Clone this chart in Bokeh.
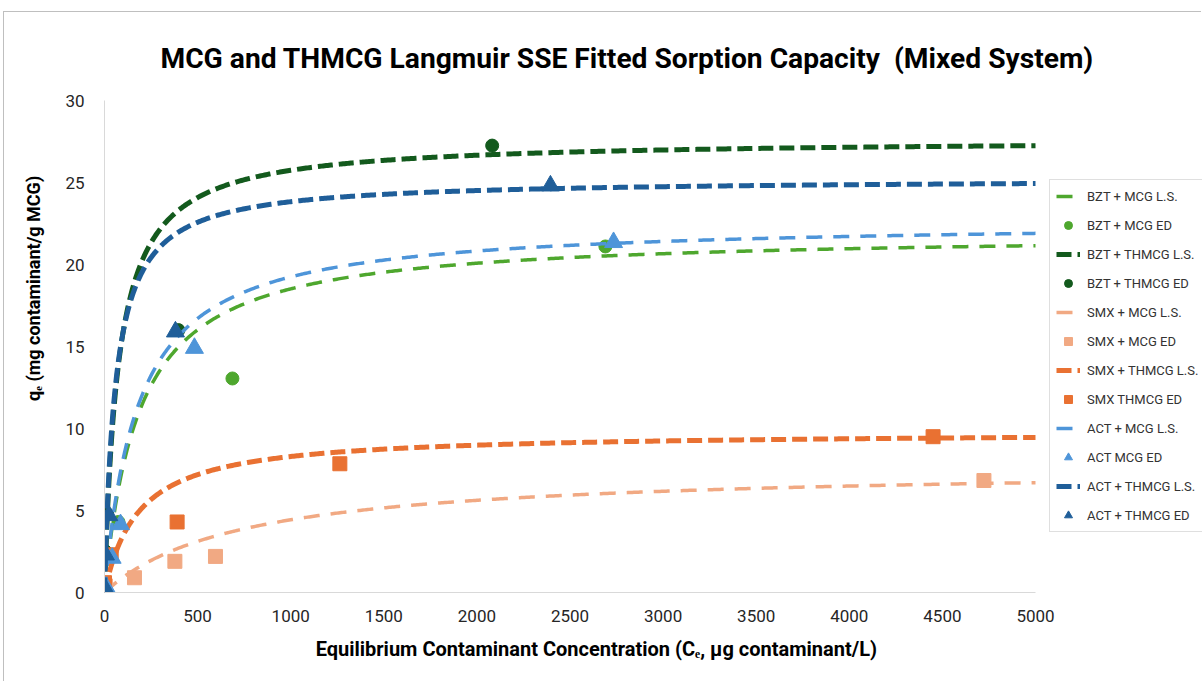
import numpy as np
from bokeh.plotting import figure
from bokeh.models import Legend, LegendItem, Range1d, FixedTicker
from bokeh.embed import file_html
from bokeh.resources import INLINE

# ---- Langmuir fit parameters (q_max in mg/g, K_L in L/ug) ----
bzt_mcg_qmax, bzt_mcg_kl = 21.93, 0.00542
bzt_thmcg_qmax, bzt_thmcg_kl = 27.65, 0.0135
smx_mcg_qmax, smx_mcg_kl = 7.68, 0.001365
smx_thmcg_qmax, smx_thmcg_kl = 9.8, 0.0055
act_mcg_qmax, act_mcg_kl = 22.68, 0.0056
act_thmcg_qmax, act_thmcg_kl = 25.23, 0.017

# ---- Experimental data (Ce in ug/L, qe in mg/g) ----
bzt_mcg_ce = [0, 10, 75, 687, 2690]
bzt_mcg_qe = [0.3, 2.3, 4.3, 13.05, 21.1]
bzt_thmcg_ce = [0, 5, 14, 397, 2082]
bzt_thmcg_qe = [0.3, 2.5, 4.8, 16.0, 27.25]
smx_mcg_ce = [5, 161, 378, 596, 4723]
smx_mcg_qe = [0.4, 0.9, 1.9, 2.2, 6.83]
smx_thmcg_ce = [0, 36, 390, 1264, 4450]
smx_thmcg_qe = [0.6, 2.3, 4.3, 7.85, 9.5]
act_mcg_ce = [10, 41, 86, 483, 2734]
act_mcg_qe = [0.3, 2.1, 4.15, 14.9, 21.35]
act_thmcg_ce = [0, 5, 23, 381, 2395]
act_thmcg_qe = [0.3, 2.3, 4.7, 15.9, 24.8]

x_ticks = [0, 500, 1000, 1500, 2000, 2500, 3000, 3500, 4000, 4500, 5000]
y_ticks = [0, 5, 10, 15, 20, 25, 30]
x_max, y_max = 5000, 30

C_GREEN = "#4EA72E"
C_DKGREEN = "#135A1D"
C_LTORANGE = "#F1A983"
C_ORANGE = "#E97132"
C_LTBLUE = "#4E95D9"
C_DKBLUE = "#1F5E99"

FONT = "Roboto"
NB = "\u00a0"

# Canvas geometry: the plotting frame runs to the right edge so the legend can sit
# beside the data area; the x axis itself is bounded to 0..x_max.
FIG_W, FIG_H = 1198, 670
BORDER_L, BORDER_T, BORDER_B = 100, 88, 90
DATA_W = 931                      # pixel width of the 0..x_max span
FRAME_W = FIG_W - BORDER_L
x_end = x_max * FRAME_W / DATA_W


def langmuir(ce, qmax, kl):
    return qmax * kl * ce / (1.0 + kl * ce)


ce_fit = np.concatenate([np.linspace(0, 50, 101), np.linspace(50, x_max, 600)[1:]])

p = figure(width=FIG_W, height=FIG_H, output_backend="svg", toolbar_location=None,
           x_range=Range1d(0, x_end), y_range=Range1d(0, y_max),
           min_border_left=BORDER_L, min_border_right=0, min_border_top=BORDER_T,
           min_border_bottom=BORDER_B, margin=(11, 0, 0, 3),
           title="MCG and THMCG Langmuir SSE Fitted Sorption Capacity " + NB + "(Mixed System)")
p.styles = {"border-top": "1px solid #BFBFBF", "border-left": "1px solid #BFBFBF"}
p.outline_line_color = None
p.xgrid.visible = False
p.ygrid.visible = False
p.background_fill_color = "white"
p.border_fill_color = "white"

p.title.text_font = FONT
p.title.text_font_style = "bold"
p.title.text_font_size = "28.2px"
p.title.text_color = "#000000"
p.title.align = "left"
p.title.offset = 56
p.title.standoff = 51

for ax, ticks in ((p.xaxis, x_ticks), (p.yaxis, y_ticks)):
    ax.ticker = FixedTicker(ticks=ticks)
    ax.axis_line_color = "#D9D9D9"
    ax.axis_line_width = 1
    ax.major_tick_line_color = None
    ax.minor_tick_line_color = None
    ax.major_label_text_font = FONT
    ax.major_label_text_font_size = "17px"
    ax.major_label_text_color = "#262626"
    ax.axis_label_text_font = FONT
    ax.axis_label_text_font_style = "bold"
    ax.axis_label_text_color = "#000000"
p.xaxis.bounds = (0, x_max)
p.xaxis.major_label_standoff = 11
p.yaxis.major_label_standoff = 14
p.xaxis.axis_label_text_font_size = "20px"
p.yaxis.axis_label_text_font_size = "18px"
# no-break space padding nudges the titles along their axes
p.xaxis.axis_label = "Equilibrium Contaminant Concentration (C\u2091, \u00b5g contaminant/L)" + NB * 23
p.yaxis.axis_label = NB * 26 + "q\u2091 (mg contaminant/g MCG)"
p.xaxis.axis_label_standoff = 12
p.yaxis.axis_label_standoff = 18

THICK = dict(line_width=5, line_dash="15 6")
THIN = dict(line_width=3.5, line_dash="16 11")

items = []


def add_fit(label, qmax, kl, color, style):
    r = p.line(ce_fit, langmuir(ce_fit, qmax, kl), line_color=color, **style)
    items.append(LegendItem(label=label, renderers=[r]))


def add_pts(label, ce, qe, color, marker, size):
    r = p.scatter(ce, qe, marker=marker, size=size, fill_color=color, line_color=color)
    items.append(LegendItem(label=label, renderers=[r]))


add_fit("BZT + MCG L.S.", bzt_mcg_qmax, bzt_mcg_kl, C_GREEN, THIN)
add_pts("BZT + MCG ED", bzt_mcg_ce, bzt_mcg_qe, C_GREEN, "circle", 13)
add_fit("BZT + THMCG L.S.", bzt_thmcg_qmax, bzt_thmcg_kl, C_DKGREEN, THICK)
add_pts("BZT + THMCG ED", bzt_thmcg_ce, bzt_thmcg_qe, C_DKGREEN, "circle", 13)
add_fit("SMX + MCG L.S.", smx_mcg_qmax, smx_mcg_kl, C_LTORANGE, THIN)
add_pts("SMX + MCG ED", smx_mcg_ce, smx_mcg_qe, C_LTORANGE, "square", 14)
add_fit("SMX + THMCG L.S.", smx_thmcg_qmax, smx_thmcg_kl, C_ORANGE, THICK)
add_pts("SMX THMCG ED", smx_thmcg_ce, smx_thmcg_qe, C_ORANGE, "square", 14)
add_fit("ACT + MCG L.S.", act_mcg_qmax, act_mcg_kl, C_LTBLUE, THIN)
add_pts("ACT MCG ED", act_mcg_ce, act_mcg_qe, C_LTBLUE, "triangle", 18)
add_fit("ACT + THMCG L.S.", act_thmcg_qmax, act_thmcg_kl, C_DKBLUE, THICK)
add_pts("ACT + THMCG ED", act_thmcg_ce, act_thmcg_qe, C_DKBLUE, "triangle", 18)

legend = Legend(items=items, location=(945, 60))
legend.label_text_font = FONT
legend.label_text_font_size = "13px"
legend.label_text_color = "#333333"
legend.border_line_color = "#BFBFBF"
legend.border_line_width = 1
legend.background_fill_alpha = 1
legend.glyph_width = 24
legend.glyph_height = 20
legend.label_height = 20
legend.spacing = 9
legend.padding = 6
legend.margin = 0
legend.label_standoff = 7
p.add_layout(legend, "center")

open("out.html", "w").write(file_html(p, INLINE))
